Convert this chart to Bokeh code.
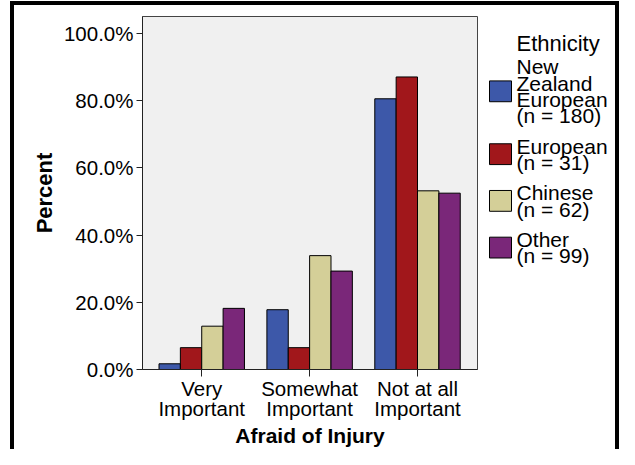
from bokeh.plotting import figure
from bokeh.layouts import row
from bokeh.models import (ColumnDataSource, Range1d, FixedTicker, PrintfTickFormatter)
from bokeh.core.properties import value
from bokeh.transform import dodge
from bokeh.embed import file_html
from bokeh.resources import INLINE

# ---- data ----
categories = ["Very\nImportant", "Somewhat\nImportant", "Not at all\nImportant"]
ethnicities = ["New\nZealand\nEuropean\n(n = 180)", "European\n(n = 31)",
               "Chinese\n(n = 62)", "Other\n(n = 99)"]
legend_title = "Ethnicity"
nz_european = [1.7, 17.8, 80.6]
european = [6.5, 6.5, 87.1]
chinese = [12.9, 33.9, 53.2]
other = [18.2, 29.3, 52.5]
y_ticks = [0, 20, 40, 60, 80, 100]

colors = ["#3D58A9", "#A1171B", "#D4CF98", "#7A2779"]

src = ColumnDataSource(dict(x=list(range(len(categories))),
                            nz=nz_european, eu=european, cn=chinese, ot=other))

FONT = "Liberation Sans"
F_TOP, F_BOTTOM = 16, 372   # pixel rows of the plot frame (shared by the legend panel)

p = figure(width=480, height=449, output_backend="svg", toolbar_location=None,
           x_range=Range1d(-0.549, 2.556), y_range=Range1d(0, 105.1),
           background_fill_color="#F0F0F0", border_fill_alpha=0,
           min_border_left=142, min_border_top=F_TOP, min_border_bottom=75,
           min_border_right=3)
p.outline_line_color = "#444444"
p.outline_line_width = 1
p.grid.visible = False

bw = 0.198
cols = ["nz", "eu", "cn", "ot"]
offs = [-0.297, -0.099, 0.099, 0.297]
for c, o, col in zip(cols, offs, colors):
    p.vbar(x=dodge("x", o), top=c, width=bw, bottom=0, source=src,
           fill_color=col, line_color="black", line_width=1)

# axes
p.xaxis.ticker = FixedTicker(ticks=list(range(len(categories))))
p.xaxis.major_label_overrides = {i: c for i, c in enumerate(categories)}
p.xaxis.minor_tick_line_color = None
p.xaxis.major_tick_in = 0
p.xaxis.major_tick_out = 7
p.xaxis.axis_line_color = "#222222"
p.xaxis.major_tick_line_color = "#222222"
p.xaxis.major_label_text_font = FONT
p.xaxis.major_label_text_font_size = "20.5px"
p.xaxis.major_label_text_line_height = 0.88
p.xaxis.major_label_text_color = "black"
p.xaxis.major_label_standoff = 0
p.xaxis.axis_label = "Afraid of Injury"
p.xaxis.axis_label_text_font = FONT
p.xaxis.axis_label_text_font_size = "21px"
p.xaxis.axis_label_text_font_style = "bold"
p.xaxis.axis_label_text_color = "black"
p.xaxis.axis_label_standoff = 1

p.yaxis.ticker = FixedTicker(ticks=y_ticks)
p.yaxis.formatter = PrintfTickFormatter(format="%.1f%%")
p.yaxis.minor_tick_line_color = None
p.yaxis.major_tick_in = 0
p.yaxis.major_tick_out = 6
p.yaxis.axis_line_color = "#222222"
p.yaxis.major_tick_line_color = "#222222"
p.yaxis.major_label_text_font = FONT
p.yaxis.major_label_text_font_size = "20.5px"
p.yaxis.major_label_text_color = "black"
p.yaxis.major_label_standoff = 3
p.yaxis.axis_label = "Percent"
p.yaxis.axis_label_text_font = FONT
p.yaxis.axis_label_text_font_size = "22px"
p.yaxis.axis_label_text_font_style = "bold"
p.yaxis.axis_label_text_color = "black"
p.yaxis.axis_label_standoff = 4

# ---- legend panel: a second figure whose frame is aligned with the plot frame;
#      its ranges are set so one unit equals one pixel row/column (y downwards) ----
QW, QH = 139, 449
q = figure(width=QW, height=QH, output_backend="svg", toolbar_location=None,
           x_axis_location=None, y_axis_location=None,
           x_range=Range1d(0, QW), y_range=Range1d(F_BOTTOM, F_TOP),
           background_fill_alpha=0, border_fill_alpha=0,
           min_border_left=0, min_border_right=0, min_border_top=F_TOP,
           min_border_bottom=0)
q.outline_line_color = None
q.grid.visible = False

LINE = 16.3      # label line pitch (px)
GAP = 14.5       # gap between legend entries (px)
CAP = 15.0       # cap height of the label font (px)
top = 59.5       # cap top of the first label line
centers = []
for lab in ethnicities:
    n = lab.count("\n") + 1
    centers.append(top + ((n - 1) * LINE + CAP) / 2)
    top += n * LINE + GAP

leg = ColumnDataSource(dict(y=centers, label=ethnicities, color=colors))
q.rect(x=20, y="y", width=22, height=21, source=leg, fill_color="color",
       line_color="black", line_width=1)
q.text(x=36, y="y", text="label", source=leg, text_font=value(FONT),
       text_font_size=value("21px"), text_line_height=0.71,
       text_baseline="middle", text_align="left", text_color="black")
q.text(x=[36], y=[43], text=[legend_title], text_font=value(FONT),
       text_font_size=value("22px"), text_baseline="alphabetic",
       text_align="left", text_color="black")

layout = row(p, q, spacing=0)
layout.styles = {
    "background-color": "white",
    "background-image": "linear-gradient(#000,#000), linear-gradient(#000,#000), linear-gradient(#000,#000)",
    "background-size": "4px 100%, 100% 4px, 4px 100%",
    "background-position": "10px 1px, 10px 1px, 615px 1px",
    "background-repeat": "no-repeat",
}

open("out.html", "w").write(file_html(layout, INLINE))
